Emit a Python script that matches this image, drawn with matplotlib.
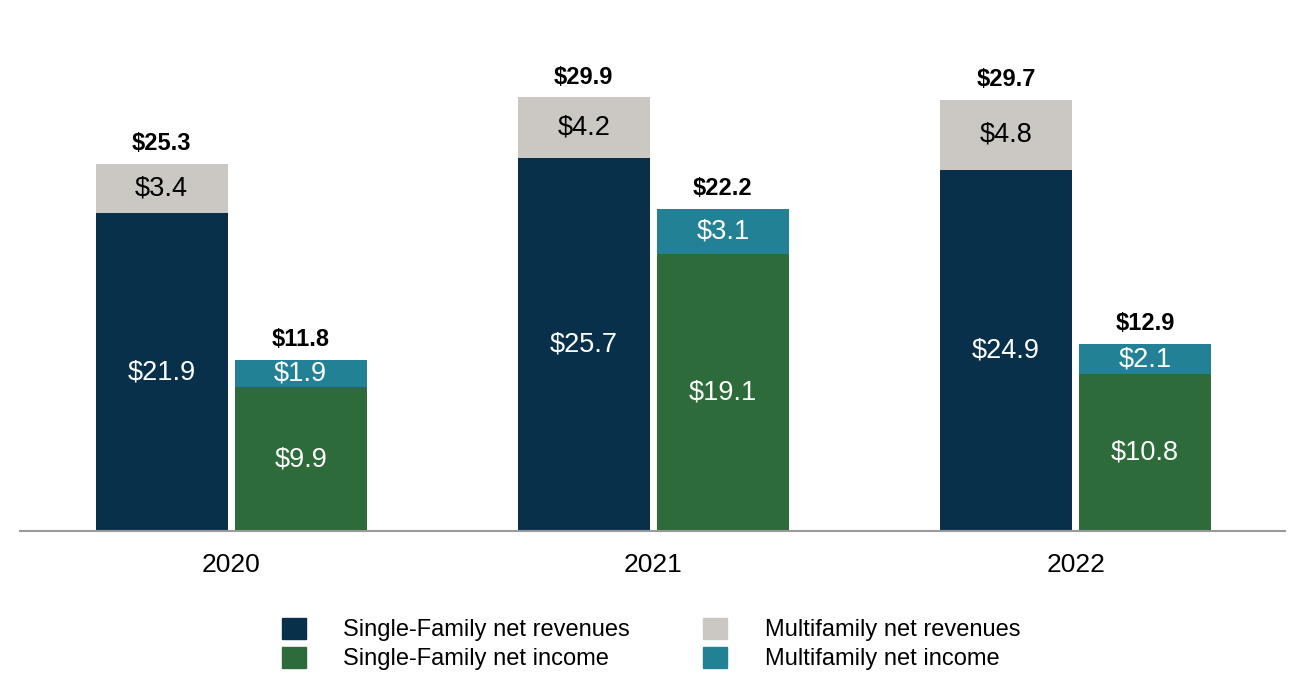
import matplotlib.pyplot as plt
from matplotlib.patches import Patch
import numpy as np

plt.rcParams['font.family'] = ['Liberation Sans', 'DejaVu Sans']

years = ['2020', '2021', '2022']
sf_revenues = [21.9, 25.7, 24.9]
mf_revenues = [3.4, 4.2, 4.8]
sf_income = [9.9, 19.1, 10.8]
mf_income = [1.9, 3.1, 2.1]
rev_totals = [25.3, 29.9, 29.7]
inc_totals = [11.8, 22.2, 12.9]

c_sf_rev = '#08304b'
c_mf_rev = '#cbc8c4'
c_sf_inc = '#2e6b3a'
c_mf_inc = '#238196'

fig = plt.figure(figsize=(13.06, 7), dpi=100)
ax = fig.add_axes([0.0153, 0.2414, 0.969, 0.7586])

x = np.arange(len(years))
w = 0.3128
off = 0.1647

b1 = ax.bar(x - off, sf_revenues, w, color=c_sf_rev)
b2 = ax.bar(x - off, mf_revenues, w, bottom=sf_revenues, color=c_mf_rev)
b3 = ax.bar(x + off, sf_income, w, color=c_sf_inc)
b4 = ax.bar(x + off, mf_income, w, bottom=sf_income, color=c_mf_inc)

# segment labels
for bars, vals, bottoms, col in [(b1, sf_revenues, [0] * 3, 'white'),
                                 (b2, mf_revenues, sf_revenues, 'black'),
                                 (b3, sf_income, [0] * 3, 'white'),
                                 (b4, mf_income, sf_income, 'white')]:
    for b, v, bt in zip(bars, vals, bottoms):
        ax.text(b.get_x() + b.get_width() / 2, bt + v / 2, f'${v:.1f}',
                ha='center', va='center', color=col, fontsize=19.5)

# totals
for xi, t in zip(x - off, rev_totals):
    ax.annotate(f'${t:.1f}', (xi, t), xytext=(0, 14.5), textcoords='offset points',
                ha='center', va='center', fontsize=17, fontweight='bold')
for xi, t in zip(x + off, inc_totals):
    ax.annotate(f'${t:.1f}', (xi, t), xytext=(0, 14.5), textcoords='offset points',
                ha='center', va='center', fontsize=17, fontweight='bold')

ax.set_xlim(-0.5, 2.497)
ax.set_ylim(0, 36.6)
ax.set_xticks(x)
ax.set_xticklabels(years, fontsize=19)
ax.tick_params(axis='x', length=0, pad=16)
ax.set_yticks([])
for s in ['top', 'right', 'left']:
    ax.spines[s].set_visible(False)
ax.spines['bottom'].set_color('#999999')
ax.spines['bottom'].set_linewidth(1.5)

handles = [Patch(color=c_sf_rev), Patch(color=c_sf_inc),
           Patch(color=c_mf_rev), Patch(color=c_mf_inc)]
labels = ['Single-Family net revenues', 'Single-Family net income',
          'Multifamily net revenues', 'Multifamily net income']
fig.legend(handles, labels, ncol=2, loc='center', bbox_to_anchor=(0.4985, 0.08),
           frameon=False, fontsize=17, handlelength=1.0, handleheight=1.0,
           handletextpad=1.6, columnspacing=3.1, labelspacing=0.22)

fig.savefig('out.png', dpi=100)
